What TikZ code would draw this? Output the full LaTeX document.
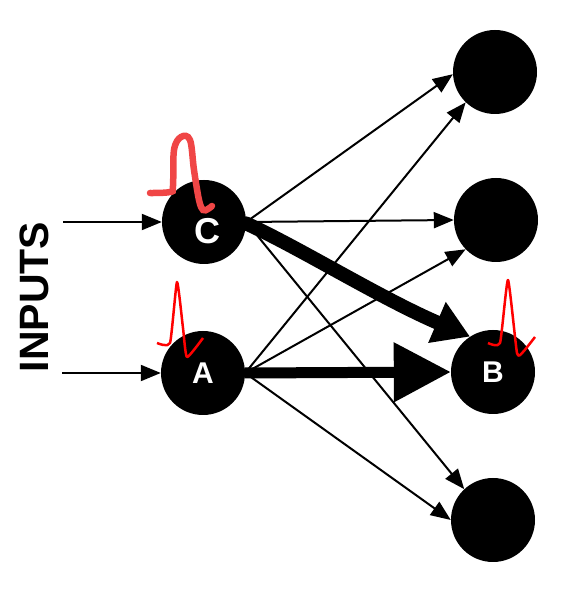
\documentclass[tikz,border=0pt]{standalone}
\usepackage{fontspec}
\setsansfont{Liberation Sans}
\usetikzlibrary{arrows.meta}

\begin{document}
\begin{tikzpicture}[
  x=1pt, y=1pt,
  % Neuronai
  neuron/.style={circle, fill=black, minimum size=84pt, inner sep=0pt},
  % Plonos ir storos jungtys
  synapse/.style={line width=2pt, -{Triangle[length=20pt,width=16pt]}},
  strong/.style={line width=11pt, -{Triangle[length=57pt,width=57pt]}},
  scribble/.style={line width=14pt, line cap=round, -{Triangle[length=36pt,width=42pt]}},
  % Impulsai
  spike/.style={red, line width=2.5pt, line join=round},
  letter/.style={text=white, font=\sffamily\bfseries\fontsize{30}{30}\selectfont}
]
  \useasboundingbox (0,0) rectangle (571,600);

  % Neuronai
  \node[neuron] (C) at (204,378) {};
  \node[neuron, letter] (A) at (203,227) {A};
  \node[neuron] (top) at (495,528) {};
  \node[neuron] (mid) at (496,380) {};
  \node[neuron, letter] (B) at (493,228) {B};
  \node[neuron] (bottom) at (493,80) {};
  \node[text=white, font=\sffamily\bfseries\fontsize{36}{36}\selectfont] (Clabel) at (207,369) {C};

  % Įėjimai
  \node[rotate=90, font=\sffamily\bfseries\fontsize{41}{41}\selectfont] (inputs) at (34,303) {INPUTS};
  \coordinate (inC) at (63,378);
  \coordinate (inA) at (62,227);
  \draw[synapse] (inC) -- (C.west);
  \draw[synapse] (inA) -- (A.west);

  % Jungtys
  \draw[synapse] (C.east) -- (top.183);
  \draw[synapse] (C.east) -- (mid.west);
  \draw[synapse] (C.east) -- (bottom.133);
  \draw[synapse] (A.east) -- (top.226);
  \draw[synapse] (A.east) -- (mid.224);
  \draw[synapse] (A.east) -- (bottom.west);
  \draw[strong] (A.east) -- (B.west);
  \draw[scribble] (C.-2) .. controls (300,352) and (380,302) .. (B.123);

  % Impulsai
  \draw[line width=6.5pt, line cap=round, color={rgb,255:red,240;green,70;blue,70}]
    plot[smooth, tension=0.6] coordinates {(150,407) (170,408) (173,414) (174,450)
      (181,463) (190,460) (194,430) (199,400) (203,390) (208,391) (212,394)};
  \draw[spike] plot[smooth, tension=0.3] coordinates {(157,257) (170,257) (177,318)
    (183,272) (187,243) (203,262)};
  \draw[spike] plot[smooth, tension=0.3] coordinates {(488,257) (500,257) (508,320)
    (517,247) (523,248) (535,263)};
\end{tikzpicture}
\end{document}
